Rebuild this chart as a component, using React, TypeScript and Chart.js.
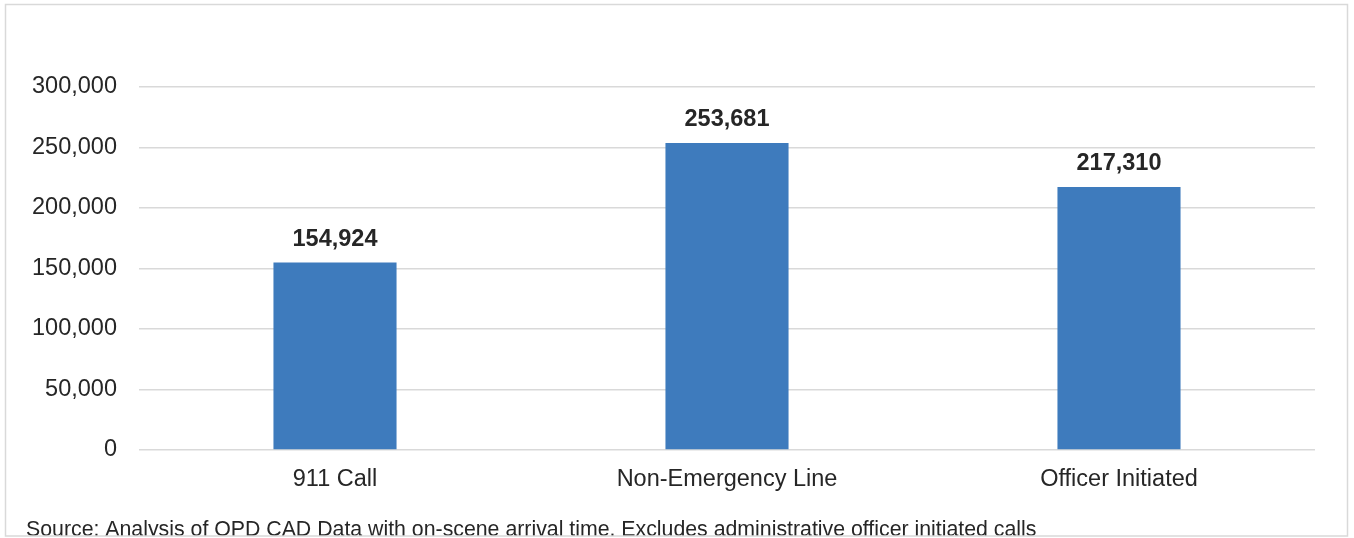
import React, { useEffect, useRef } from "react";
import { Chart, registerables } from "chart.js";

Chart.register(...registerables);

const categories = ["911 Call", "Non-Emergency Line", "Officer Initiated"];
const callCounts = [154924, 253681, 217310];
const yTickMax = 300000;
const yTickStep = 50000;
const sourceNote =
  "Source: Analysis of OPD CAD Data with on-scene arrival time. Excludes administrative officer initiated calls";

const FONT = "'Liberation Sans', Arial, sans-serif";

const decorPlugin = {
  id: "decor",
  afterDatasetsDraw(chart: any) {
    const ctx = chart.ctx;
    const meta = chart.getDatasetMeta(0);
    ctx.save();
    ctx.font = `bold 23.5px ${FONT}`;
    ctx.fillStyle = "#262626";
    ctx.textAlign = "center";
    ctx.textBaseline = "alphabetic";
    meta.data.forEach((bar: any, i: number) => {
      const v = chart.data.datasets[0].data[i] as number;
      ctx.fillText(v.toLocaleString("en-US"), bar.x, bar.y - 17);
    });
    ctx.restore();
  },
  afterDraw(chart: any) {
    const ctx = chart.ctx;
    ctx.save();
    ctx.beginPath();
    ctx.rect(5, 4, 1343, 532);
    ctx.clip();
    ctx.font = `21.3px ${FONT}`;
    ctx.fillStyle = "#262626";
    ctx.textAlign = "left";
    ctx.textBaseline = "alphabetic";
    ctx.fillText(sourceNote, 26, 536);
    ctx.restore();
    ctx.save();
    ctx.strokeStyle = "#d9d9d9";
    ctx.lineWidth = 1.5;
    ctx.strokeRect(5.5, 4.5, 1342, 531.5);
    ctx.restore();
  },
};

export default function App() {
  const ref = useRef<HTMLCanvasElement | null>(null);
  useEffect(() => {
    if (!ref.current) return;
    const chart = new Chart(ref.current, {
      type: "bar",
      data: {
        labels: categories,
        datasets: [
          {
            data: callCounts,
            backgroundColor: "#3e7bbd",
            borderWidth: 0,
            categoryPercentage: 1,
            barPercentage: 0.314,
          },
        ],
      },
      options: {
        responsive: false,
        animation: false,
        devicePixelRatio: 1,
        layout: { padding: { left: 0, right: 39, top: 87, bottom: 0 } },
        plugins: {
          legend: { display: false },
          tooltip: { enabled: false },
        },
        scales: {
          x: {
            grid: { display: false, drawTicks: false },
            border: { display: false },
            ticks: {
              color: "#262626",
              font: { family: FONT, size: 23.5 },
              padding: 15,
            },
            afterFit(scale: any) {
              scale.height = 88;
            },
          },
          y: {
            min: 0,
            max: yTickMax,
            grid: { color: "#d9d9d9", lineWidth: 1.5, drawTicks: false },
            border: { display: false },
            ticks: {
              stepSize: yTickStep,
              color: "#262626",
              font: { family: FONT, size: 23.5 },
              padding: 22,
              callback: (v: any) => Number(v).toLocaleString("en-US"),
            },
            afterFit(scale: any) {
              scale.width = 139;
            },
          },
        },
      },
      plugins: [decorPlugin],
    });
    return () => chart.destroy();
  }, []);
  return (
    <div style={{ position: "absolute", left: 0, top: 0, width: 1354, height: 538, background: "#fff" }}>
      <canvas ref={ref} width={1354} height={538} style={{ display: "block" }} />
    </div>
  );
}
